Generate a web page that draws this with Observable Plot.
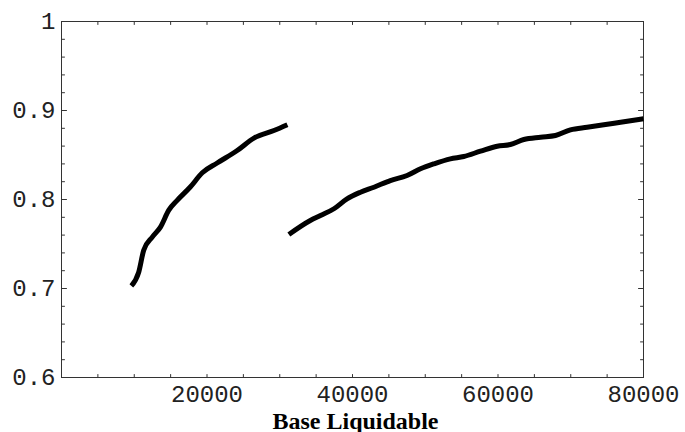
<!DOCTYPE html>
<html>
<head>
<meta charset="utf-8">
<script src="https://cdn.jsdelivr.net/npm/d3@7"></script>
<script src="https://cdn.jsdelivr.net/npm/@observablehq/plot@0.6"></script>
<style>
  html, body { margin: 0; padding: 0; background: #fff; }
</style>
</head>
<body>
<div id="chart"></div>
<script>
// Series 1 (left curve)
const s1x = [9600, 10600, 11300, 12500, 13600, 14750, 15900, 17700, 19350, 21400, 24150, 26450, 29200, 31050];
const s1y = [0.703, 0.718, 0.743, 0.758, 0.769, 0.788, 0.799, 0.814, 0.830, 0.841, 0.855, 0.869, 0.8775, 0.884];
// Series 2 (right curve)
const s2x = [31250, 34200, 35600, 37450, 39250, 41100, 42950, 45200, 47500, 49350, 51200, 53450, 55300, 57600, 59900, 61700, 63550, 65850, 67900, 69950, 72250, 74550, 76850, 80000];
const s2y = [0.7607, 0.7764, 0.782, 0.7896, 0.8008, 0.8082, 0.8138, 0.8213, 0.827, 0.8345, 0.8401, 0.8457, 0.8483, 0.8543, 0.8599, 0.8618, 0.8674, 0.870, 0.8719, 0.8783, 0.8812, 0.8839, 0.8868, 0.8907];

const xMajor = [20000, 40000, 60000, 80000];
const xMinor = d3.range(0, 80001, 5000);
const yMajor = [0.6, 0.7, 0.8, 0.9, 1];
const yMinor = d3.range(0.6, 1.0001, 0.02);
const xLabel = "Base Liquidable";

const line1 = s1x.map((x, i) => ({x, y: s1y[i]}));
const line2 = s2x.map((x, i) => ({x, y: s2y[i]}));

const tickFont = {fontFamily: "Liberation Mono", fontSize: 24, fill: "#222"};
const fmtY = d => d === 1 ? "1" : d.toFixed(1);

// straight tick line shape for vector marks
const tickShape = {draw(context, l) { context.moveTo(0, 0); context.lineTo(0, -l); }};
const tickStyle = {stroke: "#333", strokeWidth: 1, shape: tickShape, anchor: "start"};

const chart = Plot.plot({
  width: 685,
  height: 432,
  marginLeft: 61,
  marginRight: 42,
  marginTop: 21,
  marginBottom: 55,
  style: {background: "#fff", overflow: "visible"},
  x: {domain: [0, 80000], label: null, axis: null},
  y: {domain: [0.6, 1], label: null, axis: null},
  marks: [
    Plot.frame({stroke: "#333", strokeWidth: 1}),
    // inward ticks on all four sides
    Plot.vector(xMinor, {x: d => d, frameAnchor: "bottom", length: 3, rotate: 0, ...tickStyle}),
    Plot.vector(xMinor, {x: d => d, frameAnchor: "top", length: 3, rotate: 180, ...tickStyle}),
    Plot.vector(yMinor, {y: d => d, frameAnchor: "left", length: 3, rotate: 90, ...tickStyle}),
    Plot.vector(yMajor, {y: d => d, frameAnchor: "left", length: 5, rotate: 90, ...tickStyle}),
    Plot.vector(yMinor, {y: d => d, frameAnchor: "right", length: 3, rotate: -90, ...tickStyle}),
    Plot.vector(yMajor, {y: d => d, frameAnchor: "right", length: 5, rotate: -90, ...tickStyle}),
    // tick labels
    Plot.axisX({anchor: "bottom", ticks: xMajor, tickSize: 0, tickPadding: 7, tickFormat: d => String(d), label: null, ...tickFont}),
    Plot.axisY({anchor: "left", ticks: yMajor, tickSize: 0, tickPadding: 6, tickFormat: fmtY, label: null, ...tickFont}),
    // axis label
    Plot.text([xLabel], {text: d => d, frameAnchor: "bottom", dy: 51, dx: 3, lineAnchor: "bottom",
      fontFamily: "Liberation Serif", fontWeight: "bold", fontSize: 24, fill: "#000"}),
    // curves
    Plot.line(line1, {x: "x", y: "y", curve: "monotone-x", stroke: "#000", strokeWidth: 5, strokeLinecap: "butt", strokeLinejoin: "round"}),
    Plot.line(line2, {x: "x", y: "y", curve: "monotone-x", stroke: "#000", strokeWidth: 5, strokeLinecap: "butt", strokeLinejoin: "round"})
  ]
});
document.getElementById("chart").appendChild(chart);
</script>
</body>
</html>
